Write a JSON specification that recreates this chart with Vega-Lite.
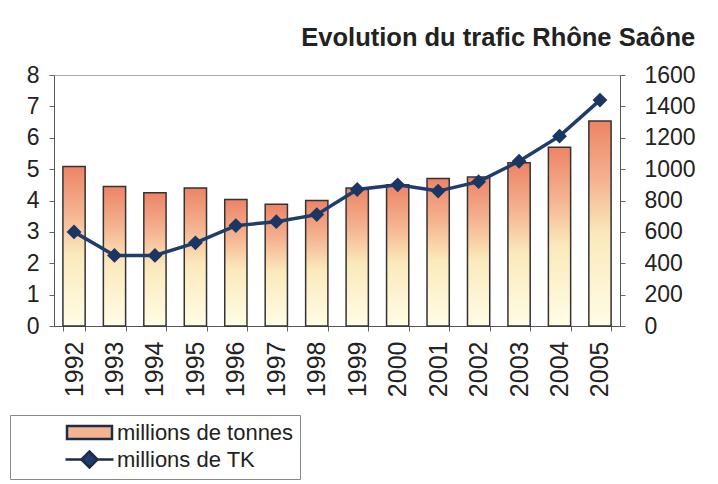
{
  "$schema": "https://vega.github.io/schema/vega-lite/v6.json",
  "width": 566,
  "height": 251,
  "autosize": "none",
  "padding": {"left": 54, "top": 75, "right": 98, "bottom": 158},
  "background": "white",
  "title": {"text": "Evolution du trafic Rhône Saône", "anchor": "end", "frame": "bounds", "font": "Liberation Sans", "fontSize": 25.5, "fontWeight": "bold", "color": "#222", "offset": 13},
  "data": {"values": [
    {"year": "1992", "tonnes": 5.08, "tk": 600},
    {"year": "1993", "tonnes": 4.45, "tk": 450},
    {"year": "1994", "tonnes": 4.25, "tk": 450},
    {"year": "1995", "tonnes": 4.4, "tk": 530},
    {"year": "1996", "tonnes": 4.03, "tk": 640},
    {"year": "1997", "tonnes": 3.88, "tk": 665},
    {"year": "1998", "tonnes": 4.0, "tk": 710},
    {"year": "1999", "tonnes": 4.4, "tk": 870},
    {"year": "2000", "tonnes": 4.5, "tk": 900},
    {"year": "2001", "tonnes": 4.7, "tk": 860},
    {"year": "2002", "tonnes": 4.75, "tk": 920},
    {"year": "2003", "tonnes": 5.2, "tk": 1050},
    {"year": "2004", "tonnes": 5.7, "tk": 1210},
    {"year": "2005", "tonnes": 6.53, "tk": 1440}
  ]},
  "config": {
    "view": {"stroke": "#aaa", "strokeWidth": 1},
    "font": "Liberation Sans",
    "axis": {"labelFont": "Liberation Sans", "labelFontSize": 23, "labelColor": "#222", "domainColor": "#555", "tickColor": "#666", "grid": false, "title": null},
    "legend": {"orient": "none", "legendX": -44, "legendY": 340, "strokeColor": "#888", "padding": 6, "labelFontSize": 22, "labelFont": "Liberation Sans", "labelColor": "#222", "labelLimit": 400, "symbolSize": 400, "symbolStrokeWidth": 2.5, "symbolOpacity": 1, "symbolOffset": 62, "labelOffset": 16, "rowPadding": 2, "title": null}
  },
  "layer": [
    {
      "mark": {"type": "bar", "stroke": "#333", "strokeWidth": 1.5,
        "color": {"gradient": "linear", "x1": 0, "y1": 0, "x2": 0, "y2": 1,
          "stops": [{"offset": 0, "color": "#ec8466"}, {"offset": 0.3, "color": "#f5b592"}, {"offset": 0.55, "color": "#fbe9bb"}, {"offset": 1, "color": "#fffde6"}]}},
      "encoding": {
        "x": {"field": "year", "type": "ordinal", "scale": {"paddingInner": 0.45, "paddingOuter": 0.22}, "axis": {"labelAngle": -90, "labelFontSize": 25, "tickBand": "extent", "labelPadding": 10, "tickSize": 5, "title": null}},
        "y": {"field": "tonnes", "type": "quantitative", "scale": {"domain": [0, 8]}, "axis": {"values": [0, 1, 2, 3, 4, 5, 6, 7, 8], "title": null, "tickSize": 5, "labelPadding": 10}}
      }
    },
    {
      "mark": {"type": "line", "color": "#1e3c6c", "strokeWidth": 3.5, "point": {"shape": "diamond", "size": 220, "filled": true, "color": "#1a3665"}},
      "encoding": {
        "x": {"field": "year", "type": "ordinal"},
        "y": {"field": "tk", "type": "quantitative", "scale": {"domain": [0, 1600]}, "axis": {"orient": "right", "format": "d", "values": [0, 200, 400, 600, 800, 1000, 1200, 1400, 1600], "labelPadding": 19, "tickSize": 5, "title": null}}
      }
    },
    {
      "data": {"values": [{"series": "millions de tonnes"}, {"series": "millions de TK"}]},
      "mark": {"type": "point", "opacity": 0, "filled": true, "stroke": "#1e2c4c", "strokeWidth": 2.5},
      "encoding": {
        "color": {"field": "series", "type": "nominal", "scale": {"domain": ["millions de tonnes", "millions de TK"], "range": ["#f4b48e", "#1e3c6c"]}, "legend": {"title": null}},
        "shape": {"field": "series", "type": "nominal", "scale": {"domain": ["millions de tonnes", "millions de TK"], "range": ["M-2.25,-0.65H2.25V0.65H-2.25Z", "M-2.4,0H-0.8L0,-0.8L0.8,0L0,0.8L-0.8,0ZM0.8,0H2.4"]}, "legend": {"title": null}}
      }
    }
  ],
  "resolve": {"scale": {"y": "independent"}}
}
